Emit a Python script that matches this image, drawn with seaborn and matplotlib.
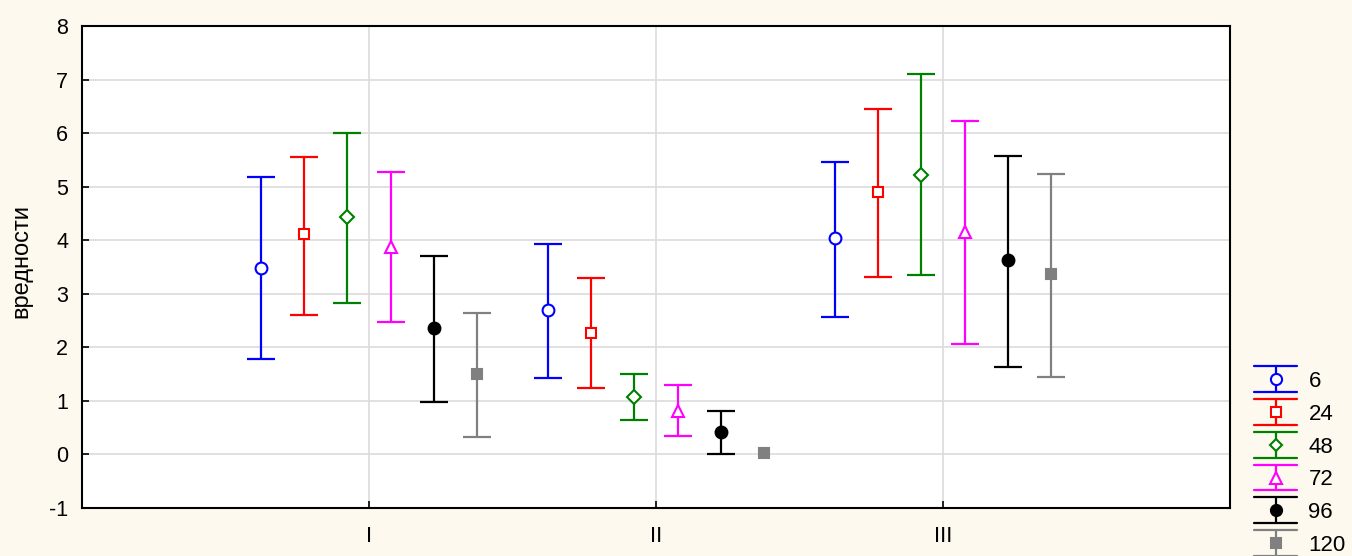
import numpy as np
import pandas as pd
import matplotlib
matplotlib.use("Agg")
import matplotlib.pyplot as plt
import seaborn as sns
from matplotlib.legend_handler import HandlerBase
from matplotlib.lines import Line2D

categories = ["I", "II", "III"]
series = ["6", "24", "48", "72", "96", "120"]

mean_6 = [3.48, 2.69, 4.04]
lo_6 = [1.78, 1.42, 2.56]
hi_6 = [5.18, 3.93, 5.46]

mean_24 = [4.11, 2.26, 4.90]
lo_24 = [2.60, 1.25, 3.31]
hi_24 = [5.55, 3.29, 6.45]

mean_48 = [4.43, 1.07, 5.21]
lo_48 = [2.82, 0.64, 3.35]
hi_48 = [6.00, 1.51, 7.10]

mean_72 = [3.87, 0.82, 4.15]
lo_72 = [2.47, 0.34, 2.07]
hi_72 = [5.27, 1.29, 6.22]

mean_96 = [2.36, 0.41, 3.63]
lo_96 = [0.97, 0.00, 1.63]
hi_96 = [3.70, 0.82, 5.57]

mean_120 = [1.50, 0.03, 3.36]
lo_120 = [0.32, np.nan, 1.44]
hi_120 = [2.64, np.nan, 5.23]

yticks = [-1, 0, 1, 2, 3, 4, 5, 6, 7, 8]

means = [mean_6, mean_24, mean_48, mean_72, mean_96, mean_120]
los = [lo_6, lo_24, lo_48, lo_72, lo_96, lo_120]
his = [hi_6, hi_24, hi_48, hi_72, hi_96, hi_120]

rows = []
for s, m, l, h in zip(series, means, los, his):
    for c, mv, lv, hv in zip(categories, m, l, h):
        rows.append(dict(series=s, category=c, mean=mv, lo=lv, hi=hv))
df = pd.DataFrame(rows)

sns.set_theme(style="white")
plt.rcParams['font.family'] = ['Liberation Sans', 'DejaVu Sans']
plt.rcParams['text.color'] = 'black'
plt.rcParams['axes.labelcolor'] = 'black'
plt.rcParams['xtick.color'] = 'black'
plt.rcParams['ytick.color'] = 'black'

bg = '#FDF9EE'
fig = plt.figure(figsize=(13.52, 5.56), dpi=100, facecolor=bg)
ax = fig.add_axes([82/1352, 48/556, (1230-82)/1352, (508-26)/556])
ax.set_facecolor('white')

styles = {
    "6": dict(color='#0000FF', marker='o', mfc='none', ms=8.5),
    "24": dict(color='#FF0000', marker='s', mfc='none', ms=7.5),
    "48": dict(color='#008000', marker='D', mfc='none', ms=7),
    "72": dict(color='#FF00FF', marker='^', mfc='none', ms=8.5),
    "96": dict(color='#000000', marker='o', mfc='#000000', ms=8.5),
    "120": dict(color='#808080', marker='s', mfc='#808080', ms=7.5),
}


class ErrHandler(HandlerBase):
    def create_artists(self, legend, orig_handle, xdescent, ydescent,
                       width, height, fontsize, trans):
        col = orig_handle.get_color()
        x0 = -xdescent
        x1 = -xdescent + width
        xc = (x0 + x1) / 2
        yc = -ydescent + height / 2
        half = 9.3
        arts = [
            Line2D([xc, xc], [yc - half, yc + half], color=col, lw=1.6),
            Line2D([x0, x1], [yc + half, yc + half], color=col, lw=1.6),
            Line2D([x0, x1], [yc - half, yc - half], color=col, lw=1.6),
            Line2D([xc], [yc], linestyle='none', marker=orig_handle.get_marker(),
                   markersize=orig_handle.get_markersize(),
                   markerfacecolor=orig_handle.get_markerfacecolor(),
                   markeredgecolor=col, markeredgewidth=1.5),
        ]
        for a in arts:
            a.set_transform(trans)
        return arts


cat_pos = {c: i + 1 for i, c in enumerate(categories)}
handles = []
for k, s in enumerate(series):
    d = df[df.series == s]
    x = np.array([cat_pos[c] for c in d.category]) + (k - 2.5) * 0.15
    m = d['mean'].to_numpy()
    err = np.vstack([m - d['lo'].to_numpy(), d['hi'].to_numpy() - m])
    st = styles[s]
    ax.errorbar(x, m, yerr=err, fmt='none', ecolor=st['color'], elinewidth=1.6,
                capsize=10, capthick=1.6, zorder=3)
    face = st['mfc'] if st['mfc'] != 'none' else 'white'
    ax.plot(x, m, linestyle='none', marker=st['marker'], markersize=st['ms'],
            markerfacecolor=face, markeredgecolor=st['color'],
            markeredgewidth=1.5, zorder=4)
    handles.append(Line2D([], [], color=st['color'], marker=st['marker'],
                          markersize=st['ms'] - 0.5, markerfacecolor=face,
                          label=s))

ax.set_xlim(0, 4)
ax.set_ylim(-1, 8)
ax.set_xticks([1, 2, 3])
ax.set_xticklabels(categories)
ax.set_yticks(yticks)
ax.set_yticklabels([str(t) for t in yticks])
ax.grid(True, color='#DCDCDC', linewidth=1.2)
ax.set_axisbelow(True)
ax.tick_params(axis='y', direction='in', length=5, width=1.2, color='black',
               labelcolor='black', labelsize=15.5, left=True, pad=10)
ax.tick_params(axis='x', direction='in', length=5, width=1.2, color='black',
               labelcolor='black', labelsize=16, bottom=True, pad=13)
for sp in ax.spines.values():
    sp.set_visible(True)
    sp.set_color('black')
    sp.set_linewidth(1.5)
ax.set_ylabel('вредности', fontsize=17, color='black')
ax.yaxis.set_label_coords(-50/1148, 0.512)

leg = fig.legend(handles=handles, labels=series, loc='upper left',
                 bbox_to_anchor=(1234/1352, 1 - 351/556), frameon=False,
                 fontsize=16, handlelength=1.95, labelspacing=0.53,
                 handletextpad=0.5,
                 handler_map={Line2D: ErrHandler()})
for t in leg.get_texts():
    t.set_color('black')

fig.savefig('out.png', dpi=100, facecolor=bg)
